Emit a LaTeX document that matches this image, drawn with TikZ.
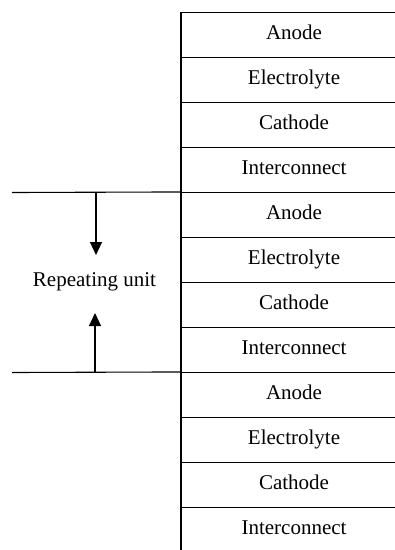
\documentclass[tikz,border=0pt]{standalone}
\usepackage{fontspec}
\setmainfont{Liberation Serif}
\usetikzlibrary{arrows.meta}
\begin{document}
\begin{tikzpicture}[x=1pt,y=-1pt,
  line width=1.1pt,
  layer/.style={draw, rectangle, inner sep=0pt, minimum width=226pt,
    minimum height=45pt, text height=14pt, text depth=6pt,
    font=\fontsize{21}{25}\selectfont},
  lbl/.style={inner sep=0pt, font=\fontsize{21}{25}\selectfont},
  marker/.style={-{Triangle[length=13pt,width=12pt]}}]
\useasboundingbox (0,0) rectangle (395,550);
% three stacked cells, four layers each
\foreach \u in {0,1,2}{
  \foreach \n/\t [count=\k from 0] in {an/Anode,el/Electrolyte,ca/Cathode,ic/Interconnect}{
    \pgfmathsetmacro{\yc}{35+180*\u+45*\k}
    \node[layer] (\n\u) at (294,\yc) {\t};
  }
}
% boundaries of the repeating unit
\coordinate (l1) at (12,192.5);
\coordinate (l2) at (12,372.5);
\draw (l1) -- (an1.north west);
\draw (l2) -- (an2.north west);
% label and arrows
\node[lbl, anchor=base] (ru) at (94.5,286.7) {Repeating unit};
\coordinate (d0) at (96,192.5);
\coordinate (d1) at (96,255);
\coordinate (u0) at (95,372.5);
\coordinate (u1) at (95,313);
\draw[marker] (d0) -- (d1);
\draw[marker] (u0) -- (u1);
\end{tikzpicture}
\end{document}
